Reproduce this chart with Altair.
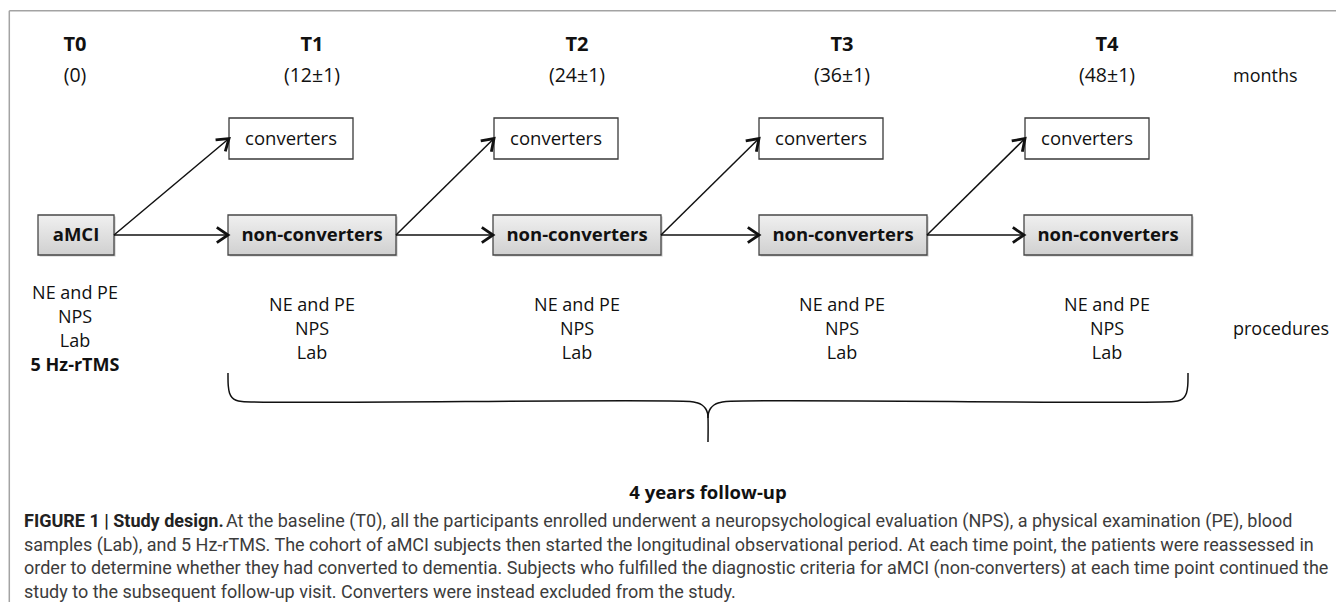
import altair as alt
import pandas as pd
import numpy as np

# ---------------- data (pixel layout of the study-design diagram) ----------------
time_labels = ["T0", "T1", "T2", "T3", "T4"]
month_labels = ["(0)", "(12±1)", "(24±1)", "(36±1)", "(48±1)"]
col_center_x = [75, 312, 577, 842, 1107]
time_label_y = 45
month_label_y = 76

conv_left = [229, 494, 759, 1025]
conv_width = 124
conv_top, conv_bottom = 118, 159
nonconv_left = [228, 493, 759, 1024]
nonconv_width = 168
row_top, row_bottom = 215, 255
amci_left, amci_right = 38, 114

conv_label = "converters"
nonconv_label = "non-converters"
amci_label = "aMCI"

procedures_t0 = ["NE and PE", "NPS", "Lab"]
procedures_t0_bold = "5 Hz-rTMS"
procedures_t0_y = [294, 318, 342, 366]
procedures_other = ["NE and PE", "NPS", "Lab"]
procedures_other_y = [306, 330, 354]

side_labels = ["months", "procedures"]
side_x = 1233
side_y = [77, 330]

# curly brace (left half; right half mirrored around centre)
brace_left_x = [228, 228.3, 229.5, 232, 236, 242, 690, 697, 702, 705.5, 707.5, 708, 708]
brace_left_y = [373, 386, 393, 397.5, 400.3, 401.5, 401.5, 402.8, 405, 408.5, 413, 418, 442]
brace_center_x = 708
followup_label = "4 years follow-up"
followup_y = 493

caption_bold = "FIGURE 1 | Study design."
caption_rest_first = "At the baseline (T0), all the participants enrolled underwent a neuropsychological evaluation (NPS), a physical examination (PE), blood"
caption_lines = [
    "samples (Lab), and 5 Hz-rTMS. The cohort of aMCI subjects then started the longitudinal observational period. At each time point, the patients were reassessed in",
    "order to determine whether they had converted to dementia. Subjects who fulfilled the diagnostic criteria for aMCI (non-converters) at each time point continued the",
    "study to the subsequent follow-up visit. Converters were instead excluded from the study.",
]
caption_x = 24
caption_rest_x = 226
caption_y = [522, 545.5, 569, 592.5]

frame_left_x = 9.3
frame_top_y = 10.7

# ---------------- build tables ----------------
W, H = 1328, 594
xs = alt.Scale(domain=[8, 8 + W], nice=False, zero=False)
ys = alt.Scale(domain=[8, 8 + H], nice=False, zero=False, reverse=True)
X = lambda f="x": alt.X(f"{f}:Q", scale=xs, axis=None)
Y = lambda f="y": alt.Y(f"{f}:Q", scale=ys, axis=None)

FONT = "Open Sans"
INK = "#111111"

# boxes
conv_df = pd.DataFrame({"x": conv_left, "x2": [l + conv_width for l in conv_left],
                        "y": conv_top, "y2": conv_bottom,
                        "cx": [l + conv_width / 2 for l in conv_left],
                        "cy": (conv_top + conv_bottom) / 2, "t": conv_label})
gray_df = pd.DataFrame({"x": [amci_left] + nonconv_left,
                        "x2": [amci_right] + [l + nonconv_width for l in nonconv_left],
                        "y": row_top, "y2": row_bottom,
                        "t": [amci_label] + [nonconv_label] * 4})
gray_df["cx"] = (gray_df["x"] + gray_df["x2"]) / 2
gray_df["cy"] = (row_top + row_bottom) / 2
shadow_df = gray_df.copy()
shadow_df[["x", "x2"]] += 1.6
shadow_df[["y", "y2"]] += 1.6

# arrows
row_cy = (row_top + row_bottom) / 2
conv_cy = (conv_top + conv_bottom) / 2
prev_right = [amci_right] + [l + nonconv_width for l in nonconv_left[:3]]
arrows = []
for i in range(4):
    arrows.append((prev_right[i], row_cy, nonconv_left[i], row_cy))
    arrows.append((prev_right[i], row_cy, conv_left[i], conv_cy))
shaft_rows, head_rows = [], []
L, half = 13.5, np.radians(34)
for i, (x1, y1, x2, y2) in enumerate(arrows):
    ang = np.arctan2(y2 - y1, x2 - x1)
    shaft_rows.append(dict(x=x1, y=y1, x2=x2 - 1.5 * np.cos(ang), y2=y2 - 1.5 * np.sin(ang)))
    for k, s in enumerate([1, 0, -1]):
        if s == 0:
            px, py = x2, y2
        else:
            a = ang + np.pi + s * half
            px, py = x2 + L * np.cos(a), y2 + L * np.sin(a)
        head_rows.append(dict(id=i, k=k, x=px, y=py))
shaft_df = pd.DataFrame(shaft_rows)
head_df = pd.DataFrame(head_rows)

# brace
brace_rows = []
for k, (bx, by) in enumerate(zip(brace_left_x, brace_left_y)):
    brace_rows.append(dict(part=0, k=k, x=bx, y=by))
for k, (bx, by) in enumerate(zip(brace_left_x[:-1], brace_left_y[:-1])):
    brace_rows.append(dict(part=1, k=k, x=2 * brace_center_x - bx, y=by))
brace_df = pd.DataFrame(brace_rows)

# texts
time_df = pd.DataFrame({"x": col_center_x, "y": time_label_y, "t": time_labels})
month_df = pd.DataFrame({"x": col_center_x, "y": month_label_y, "t": month_labels})
proc_rows = [dict(x=col_center_x[0], y=yy, t=tt) for tt, yy in zip(procedures_t0, procedures_t0_y)]
for cx in col_center_x[1:]:
    proc_rows += [dict(x=cx, y=yy, t=tt) for tt, yy in zip(procedures_other, procedures_other_y)]
proc_df = pd.DataFrame(proc_rows)
proc_bold_df = pd.DataFrame({"x": [col_center_x[0]], "y": [procedures_t0_y[3]], "t": [procedures_t0_bold]})
side_df = pd.DataFrame({"x": side_x, "y": side_y, "t": side_labels})
follow_df = pd.DataFrame({"x": [brace_center_x], "y": [followup_y], "t": [followup_label]})
cap_bold_df = pd.DataFrame({"x": [caption_x], "y": [caption_y[0]], "t": [caption_bold]})
cap_df = pd.DataFrame({"x": [caption_rest_x] + [caption_x] * 3, "y": caption_y,
                       "t": [caption_rest_first] + caption_lines})
frame_df = pd.DataFrame({"x": [frame_left_x, frame_left_x], "y": [frame_top_y, frame_top_y],
                         "x2": [8 + W + 10, frame_left_x], "y2": [frame_top_y, 8 + H + 10]})

# ---------------- layers ----------------
grad = alt.LinearGradient(
    gradient="linear",
    stops=[alt.GradientStop(color="#f0f0f0", offset=0), alt.GradientStop(color="#d0d0d0", offset=1)],
    x1=0, x2=0, y1=0, y2=1)

layers = []
layers.append(alt.Chart(frame_df).mark_rule(color="#a3a3a3", strokeWidth=1.5).encode(
    x=X(), y=Y(), x2="x2:Q", y2="y2:Q"))
layers.append(alt.Chart(shadow_df).mark_rect(fill="#8a8a8a", opacity=0.45).encode(
    x=X(), y=Y(), x2="x2:Q", y2="y2:Q"))
layers.append(alt.Chart(gray_df).mark_rect(fill=grad, stroke="#474747", strokeWidth=1.3).encode(
    x=X(), y=Y(), x2="x2:Q", y2="y2:Q"))
layers.append(alt.Chart(conv_df).mark_rect(fill="white", stroke="#3a3a3a", strokeWidth=1.3).encode(
    x=X(), y=Y(), x2="x2:Q", y2="y2:Q"))
layers.append(alt.Chart(shaft_df).mark_rule(color=INK, strokeWidth=1.5).encode(
    x=X(), y=Y(), x2="x2:Q", y2="y2:Q"))
layers.append(alt.Chart(head_df).mark_line(color=INK, strokeWidth=2.8, strokeJoin="miter",
                                           strokeCap="butt").encode(
    x=X(), y=Y(), detail="id:N", order="k:Q"))
layers.append(alt.Chart(brace_df).mark_line(color=INK, strokeWidth=1.5,
                                            interpolate="catmull-rom").encode(
    x=X(), y=Y(), detail="part:N", order="k:Q"))

def text_layer(df, size, bold=False, align="center", font=FONT, color=INK, x="x", y="y"):
    kw = dict(align=align, baseline="middle", font=font, fontSize=size, color=color)
    if bold:
        kw["fontWeight"] = "bold"
    return alt.Chart(df).mark_text(**kw).encode(x=X(x), y=Y(y), text="t:N")

layers.append(text_layer(time_df, 20, bold=True))
layers.append(text_layer(month_df, 19.5))
layers.append(text_layer(conv_df, 18.5, x="cx", y="cy"))
layers.append(text_layer(gray_df, 18.5, bold=True, x="cx", y="cy"))
layers.append(text_layer(proc_df, 18))
layers.append(text_layer(proc_bold_df, 18, bold=True))
layers.append(text_layer(side_df, 18, align="left"))
layers.append(text_layer(follow_df, 18.5, bold=True))
layers.append(text_layer(cap_bold_df, 18, bold=True, align="left", font="Roboto", color="#222222"))
layers.append(text_layer(cap_df, 18, align="left", font="Roboto", color="#3c3c3c"))

chart = alt.layer(*layers).properties(
    width=W, height=H, padding=0, autosize=alt.AutoSizeParams(type="none"),
    background="white",
).configure_view(stroke=None)

chart.save("out.html", embed_options={"renderer": "svg", "actions": False})
